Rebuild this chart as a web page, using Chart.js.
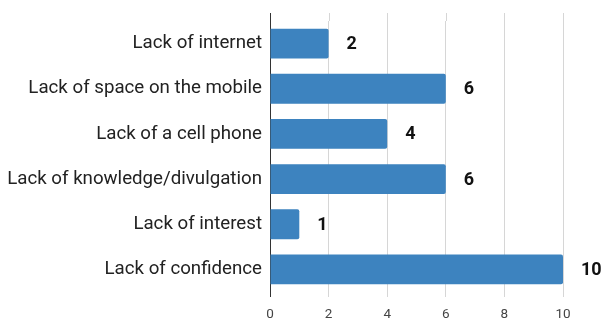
<!DOCTYPE html>
<html>
<head>
<meta charset="utf-8">
<script src="https://cdn.jsdelivr.net/npm/chart.js@4/dist/chart.umd.min.js"></script>
<style>
  html, body { margin: 0; padding: 0; background: #fff; }
  #wrap { width: 603px; height: 322px; position: relative; }
</style>
</head>
<body>
<div id="wrap"><canvas id="barChart"></canvas></div>
<script>
const categories = [
  "Lack of internet",
  "Lack of space on the mobile",
  "Lack of a cell phone",
  "Lack of knowledge/divulgation",
  "Lack of interest",
  "Lack of confidence",
];
const counts = [2, 6, 4, 6, 1, 10];
const xTicks = [0, 2, 4, 6, 8, 10];

const BAR_BLUE = "#3d83bf";
const GRID = "#d6d6d6";
const AXIS = "#333";

// grid lines poke out a little above the plot area, like the original
const gridTop = {
  id: "gridTop",
  beforeDatasetsDraw(chart) {
    const { ctx, chartArea, scales } = chart;
    ctx.save();
    ctx.lineWidth = 1;
    xTicks.forEach((v) => {
      const x = Math.round(scales.x.getPixelForValue(v)) + 0.5;
      ctx.strokeStyle = v === 0 ? AXIS : GRID;
      ctx.beginPath();
      ctx.moveTo(x, chartArea.top - 8);
      ctx.lineTo(x, chartArea.top);
      ctx.stroke();
    });
    ctx.restore();
  },
};

const valueLabels = {
  id: "valueLabels",
  afterDatasetsDraw(chart) {
    const { ctx } = chart;
    const meta = chart.getDatasetMeta(0);
    ctx.save();
    ctx.font = "bold 18px Roboto";
    ctx.fillStyle = "#111";
    ctx.textAlign = "left";
    ctx.textBaseline = "middle";
    meta.data.forEach((bar, i) => {
      ctx.fillText(String(counts[i]), bar.x + 18, bar.y + 1);
    });
    ctx.restore();
  },
};

new Chart(document.getElementById("barChart").getContext("2d"), {
  type: "bar",
  data: {
    labels: categories,
    datasets: [
      {
        data: counts,
        backgroundColor: BAR_BLUE,
        borderRadius: 2,
        borderSkipped: "start",
        barPercentage: 0.66,
        categoryPercentage: 1,
      },
    ],
  },
  options: {
    indexAxis: "y",
    responsive: true,
    maintainAspectRatio: false,
    animation: false,
    layout: { padding: { top: 21, right: 40, left: 0, bottom: 0 } },
    plugins: { legend: { display: false }, tooltip: { enabled: false } },
    scales: {
      x: {
        min: 0,
        max: 10,
        afterFit: (s) => { s.height = 30; },
        afterBuildTicks: (s) => { s.ticks = xTicks.map((v) => ({ value: v })); },
        border: { display: false },
        grid: {
          color: (c) => (c.tick && c.tick.value === 0 ? AXIS : GRID),
          tickLength: 5,
          drawTicks: true,
        },
        ticks: {
          color: "#444",
          font: { family: "Roboto", size: 13.5 },
          padding: 10,
          maxRotation: 0,
        },
      },
      y: {
        afterFit: (s) => { s.width = 270; },
        grid: { display: false, drawTicks: false },
        border: { display: false },
        ticks: {
          color: "#222",
          font: { family: "Roboto", size: 18.7 },
          padding: 8,
        },
      },
    },
  },
  plugins: [gridTop, valueLabels],
});
</script>
</body>
</html>
